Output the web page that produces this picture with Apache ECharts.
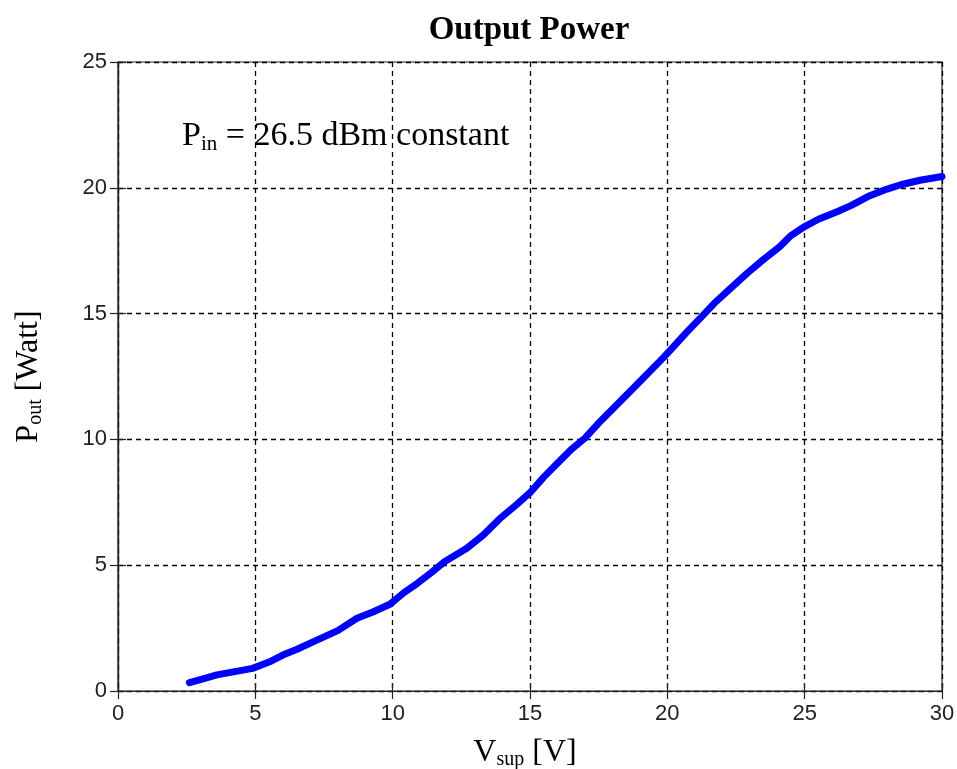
<!DOCTYPE html>
<html>
<head>
<meta charset="utf-8">
<script src="https://cdn.jsdelivr.net/npm/echarts@6/dist/echarts.min.js"></script>
<style>html,body{margin:0;padding:0;background:#fff}#c{width:957px;height:769px}</style>
</head>
<body>
<div id="c"></div>
<script>
var vSup = [2.6, 3.0, 3.6, 4.0, 4.9, 5.5, 6.0, 6.5, 7.2, 8.0, 8.7, 9.3, 9.9, 10.4, 10.9, 11.4, 11.9, 12.7, 13.3, 13.9, 14.5, 15.0, 15.5, 16.0, 16.5, 17.0, 17.5, 18.0, 19.0, 19.9, 20.7, 21.2, 21.7, 22.3, 22.9, 23.5, 24.1, 24.5, 25.0, 25.5, 26.2, 26.7, 27.3, 28.0, 28.5, 29.2, 30.0];
var pOut = [0.33, 0.45, 0.64, 0.72, 0.9, 1.15, 1.43, 1.65, 2.0, 2.4, 2.89, 3.15, 3.45, 3.9, 4.28, 4.7, 5.15, 5.67, 6.2, 6.85, 7.4, 7.88, 8.5, 9.05, 9.6, 10.05, 10.65, 11.2, 12.3, 13.3, 14.25, 14.82, 15.4, 16.0, 16.6, 17.15, 17.67, 18.1, 18.46, 18.75, 19.06, 19.3, 19.65, 19.95, 20.12, 20.3, 20.45];
var xTicks = [0, 5, 10, 15, 20, 25, 30];
var yTicks = [0, 5, 10, 15, 20, 25];
var titleText = 'Output Power';

var data = vSup.map(function (v, i) { return [v, pOut[i]]; });
var serif = 'Liberation Serif';
var tickFont = {fontFamily: 'Liberation Sans', fontSize: 22, color: '#222'};
var chart = echarts.init(document.getElementById('c'));
var dashed = {show: true, lineStyle: {color: '#000', type: [5, 4], width: 1.3}};
var tick = {show: true, inside: true, length: 8, lineStyle: {color: '#222', width: 1.2}};
chart.setOption({
  animation: false,
  title: {text: titleText, left: 524, textAlign: 'center', top: 9, textStyle: {fontFamily: serif, fontSize: 33, fontWeight: 'bold', color: '#000'}},
  grid: {left: 118, right: 15, top: 62, bottom: 78, containLabel: false, outerBoundsMode: 'none', show: true, borderColor: '#222', borderWidth: 1.2},
  xAxis: [{
    type: 'value', min: 0, max: 30, interval: 5,
    axisLine: {show: true, lineStyle: {color: '#222', width: 1.2}},
    axisTick: tick,
    axisLabel: Object.assign({margin: 12, formatter: function (v) { return xTicks.indexOf(v) >= 0 ? String(v) : ''; }}, tickFont),
    splitLine: dashed,
    name: '{a|V}{b|sup}{a| [V]}', nameLocation: 'middle', nameGap: 45,
    nameTextStyle: {padding: [0, 10, 0, 0], rich: {a: {fontFamily: serif, fontSize: 32, color: '#000'}, b: {fontFamily: serif, fontSize: 20, color: '#000', verticalAlign: 'bottom', padding: [14, 0, 0, 0]}}}
  }, {
    type: 'value', min: 0, max: 30, interval: 5, position: 'top',
    axisLine: {show: true, lineStyle: {color: '#222', width: 1.2}},
    axisTick: tick,
    axisLabel: {show: false}, splitLine: {show: false}
  }],
  yAxis: [{
    type: 'value', min: 0, max: 25, interval: 5,
    axisLine: {show: true, lineStyle: {color: '#222', width: 1.2}},
    axisTick: tick,
    axisLabel: Object.assign({margin: 11, formatter: function (v) { return yTicks.indexOf(v) >= 0 ? String(v) : ''; }}, tickFont),
    splitLine: dashed,
    name: '{a|P}{b|out}{a| [Watt]}', nameLocation: 'middle', nameGap: 72, nameRotate: 90,
    nameTextStyle: {rich: {a: {fontFamily: serif, fontSize: 32, color: '#000'}, b: {fontFamily: serif, fontSize: 20, color: '#000', verticalAlign: 'bottom', padding: [14, 0, 0, 0]}}}
  }, {
    type: 'value', min: 0, max: 25, interval: 5, position: 'right',
    axisLine: {show: true, lineStyle: {color: '#222', width: 1.2}},
    axisTick: tick,
    axisLabel: {show: false}, splitLine: {show: false}
  }],
  graphic: [{
    type: 'text', left: 182, top: 119,
    style: {
      text: '{a|P}{b|in}{a| = 26.5 dBm constant}',
      rich: {a: {fontFamily: serif, fontSize: 34, fill: '#000'}, b: {fontFamily: serif, fontSize: 21, fill: '#000', padding: [16, 0, 0, 0]}}
    }
  }],
  series: [{
    type: 'line', data: data, showSymbol: false, smooth: false,
    lineStyle: {color: '#0000ff', width: 7, cap: 'round', join: 'round'}
  }]
});
</script>
</body>
</html>
